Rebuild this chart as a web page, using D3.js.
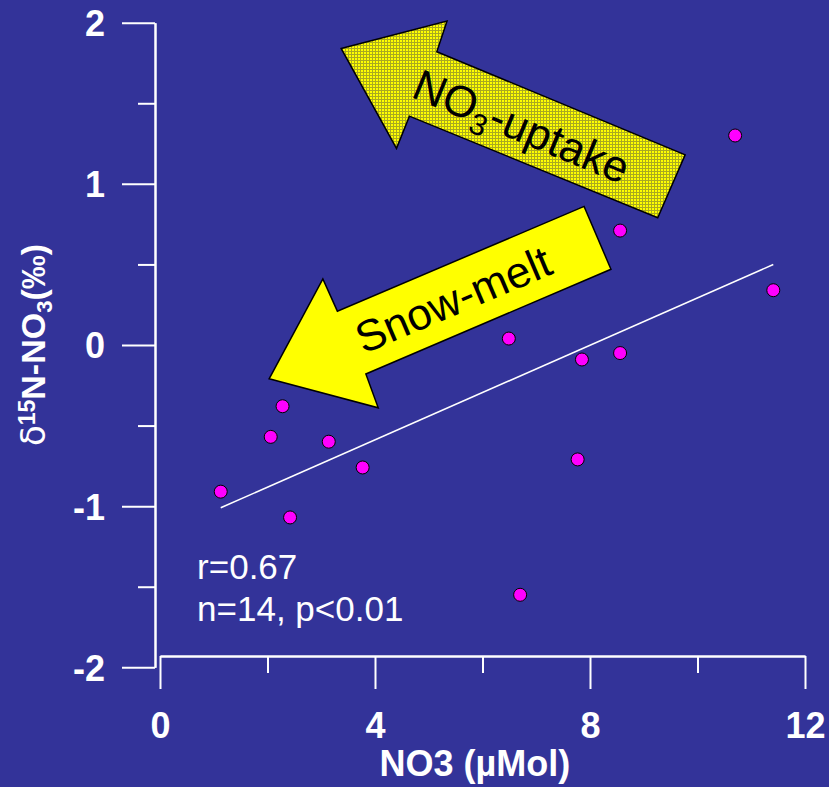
<!DOCTYPE html>
<html>
<head>
<meta charset="utf-8">
<script src="https://cdn.jsdelivr.net/npm/d3@7"></script>
<style>
  html, body { margin: 0; padding: 0; background: #333399; }
  svg { display: block; }
</style>
</head>
<body>
<div id="chart"></div>
<script>
// NO3 concentration (µMol) and δ15N-NO3 (‰) per sample
const no3 = [1.13, 2.06, 2.28, 2.42, 3.14, 3.77, 6.49, 6.70, 7.77, 7.85, 8.56, 8.56, 10.70, 11.41];
const d15n = [-0.91, -0.57, -0.38, -1.07, -0.60, -0.76, 0.04, -1.55, -0.71, -0.09, 0.71, -0.05, 1.30, 0.34];

const xMajor = [0, 4, 8, 12];
const xMinor = [2, 6, 10];
const yMajor = [-2, -1, 0, 1, 2];
const yMinor = [-1.5, -0.5, 0.5, 1.5];

const stats = ['r=0.67', 'n=14, p<0.01'];

// annotation arrows, outline in data units (tip first)
const uptakeArrow = [[3.37, 1.84], [5.34, 2.01], [5.15, 1.82], [9.77, 1.18], [9.26, 0.79], [4.64, 1.42], [4.40, 1.22]];
const snowArrow = [[2.03, -0.21], [3.03, 0.41], [3.30, 0.21], [7.89, 0.86], [8.39, 0.47], [3.83, -0.18], [4.06, -0.39]];
const uptakeLabelAt = [6.73, 1.36];
const snowLabelAt = [5.45, 0.285];

const width = 829;
const height = 787;
const font = '"Liberation Sans", Arial, sans-serif';

const x = d3.scaleLinear().domain([0, 12]).range([160, 805]);
const y = d3.scaleLinear().domain([-2, 2]).range([667.3, 22.7]);

const svg = d3.select('#chart')
  .append('svg')
  .attr('width', width)
  .attr('height', height)
  .style('font-family', font);

svg.append('rect')
  .attr('width', width)
  .attr('height', height)
  .attr('fill', '#333399');

const pattern = svg.append('defs')
  .append('pattern')
  .attr('id', 'hatch')
  .attr('patternUnits', 'userSpaceOnUse')
  .attr('width', 3)
  .attr('height', 3);
pattern.append('rect').attr('width', 3).attr('height', 3).attr('fill', '#ffff00');
pattern.append('path')
  .attr('d', 'M0,0.5H3M0.5,0V3')
  .attr('stroke', '#aaaa20')
  .attr('stroke-width', 1);

function styleAxis(g) {
  g.select('.domain').attr('stroke', '#fff').attr('stroke-width', 2);
  g.selectAll('.tick line').attr('stroke', '#fff').attr('stroke-width', 2);
  g.selectAll('.tick text')
    .attr('fill', '#fff')
    .style('font-family', font)
    .style('font-size', '36px')
    .style('font-weight', 'bold');
}

// y axis
const yAxisG = svg.append('g').attr('transform', 'translate(155, 0)');
yAxisG.append('g')
  .call(d3.axisLeft(y).tickValues(yMinor).tickSize(17).tickSizeOuter(0).tickFormat(''))
  .call(styleAxis);
yAxisG.append('g')
  .call(d3.axisLeft(y).tickValues(yMajor).tickSize(33).tickSizeOuter(0).tickPadding(17).tickFormat(d => String(d)))
  .call(styleAxis)
  .call(g => g.selectAll('.tick text').attr('dy', '0.36em'));

// x axis
const xAxisG = svg.append('g').attr('transform', 'translate(0, 656)');
xAxisG.append('g')
  .call(d3.axisBottom(x).tickValues(xMinor).tickSize(17).tickSizeOuter(0).tickFormat(''))
  .call(styleAxis);
xAxisG.append('g')
  .call(d3.axisBottom(x).tickValues(xMajor).tickSize(33).tickSizeOuter(0).tickFormat(d => String(d)))
  .call(styleAxis)
  .call(g => g.selectAll('.tick text').attr('y', 82).attr('dy', null));

// axis titles
svg.append('text')
  .attr('x', x(5.86))
  .attr('y', 776)
  .attr('text-anchor', 'middle')
  .attr('fill', '#fff')
  .style('font-size', '36px')
  .style('font-weight', 'bold')
  .text('NO3 (µMol)');

const yTitle = svg.append('text')
  .attr('transform', `translate(45, ${y(0)}) rotate(-90)`)
  .attr('text-anchor', 'middle')
  .attr('fill', '#fff')
  .style('font-size', '34px')
  .style('font-weight', 'bold');
yTitle.append('tspan').style('font-weight', 'normal').style('font-family', '"DejaVu Sans", sans-serif').text('δ');
yTitle.append('tspan').attr('dy', -10).style('font-size', '23px').text('15');
yTitle.append('tspan').attr('dy', 10).text('N-NO');
yTitle.append('tspan').attr('dy', 7).style('font-size', '22px').text('3');
yTitle.append('tspan').attr('dy', -7).text('(‰)');

// arrows
const outline = d3.line().x(d => x(d[0])).y(d => y(d[1]));

function drawArrow(points, fill) {
  svg.append('path')
    .attr('d', outline(points) + 'Z')
    .attr('fill', fill)
    .attr('stroke', '#000')
    .attr('stroke-width', 1.5)
    .attr('stroke-linejoin', 'miter');
}

function shaftAngle(points) {
  const a = points[2], b = points[3];
  return Math.atan2(y(b[1]) - y(a[1]), x(b[0]) - x(a[0])) * 180 / Math.PI;
}

drawArrow(uptakeArrow, 'url(#hatch)');
drawArrow(snowArrow, '#ffff00');

const upLabel = svg.append('text')
  .attr('transform', `translate(${x(uptakeLabelAt[0])}, ${y(uptakeLabelAt[1])}) rotate(${shaftAngle(uptakeArrow)})`)
  .attr('text-anchor', 'middle')
  .attr('fill', '#000')
  .style('font-size', '44px');
upLabel.append('tspan').attr('dy', '0.36em').text('NO');
upLabel.append('tspan').attr('dy', 10).style('font-size', '30px').text('3');
upLabel.append('tspan').attr('dy', -10).text('-uptake');

svg.append('text')
  .attr('transform', `translate(${x(snowLabelAt[0])}, ${y(snowLabelAt[1])}) rotate(${shaftAngle(snowArrow)})`)
  .attr('text-anchor', 'middle')
  .attr('dy', '0.36em')
  .attr('fill', '#000')
  .style('font-size', '44px')
  .text('Snow-melt');

// least squares fit
const mx = d3.mean(no3);
const my = d3.mean(d15n);
const slope = d3.sum(no3, (v, i) => (v - mx) * (d15n[i] - my)) / d3.sum(no3, v => (v - mx) ** 2);
const intercept = my - slope * mx;
const [x0, x1] = d3.extent(no3);

svg.append('line')
  .attr('x1', x(x0))
  .attr('y1', y(intercept + slope * x0))
  .attr('x2', x(x1))
  .attr('y2', y(intercept + slope * x1))
  .attr('stroke', '#fff')
  .attr('stroke-width', 1.5);

// samples
svg.append('g')
  .selectAll('circle')
  .data(no3)
  .join('circle')
  .attr('cx', d => x(d))
  .attr('cy', (d, i) => y(d15n[i]))
  .attr('r', 6.5)
  .attr('fill', '#ff00ff')
  .attr('stroke', '#000')
  .attr('stroke-width', 1);

// statistics
svg.append('g')
  .selectAll('text')
  .data(stats)
  .join('text')
  .attr('x', x(0.69))
  .attr('y', (d, i) => y(-1.452) + i * 42)
  .attr('fill', '#fff')
  .style('font-size', '35px')
  .text(d => d);
</script>
</body>
</html>
